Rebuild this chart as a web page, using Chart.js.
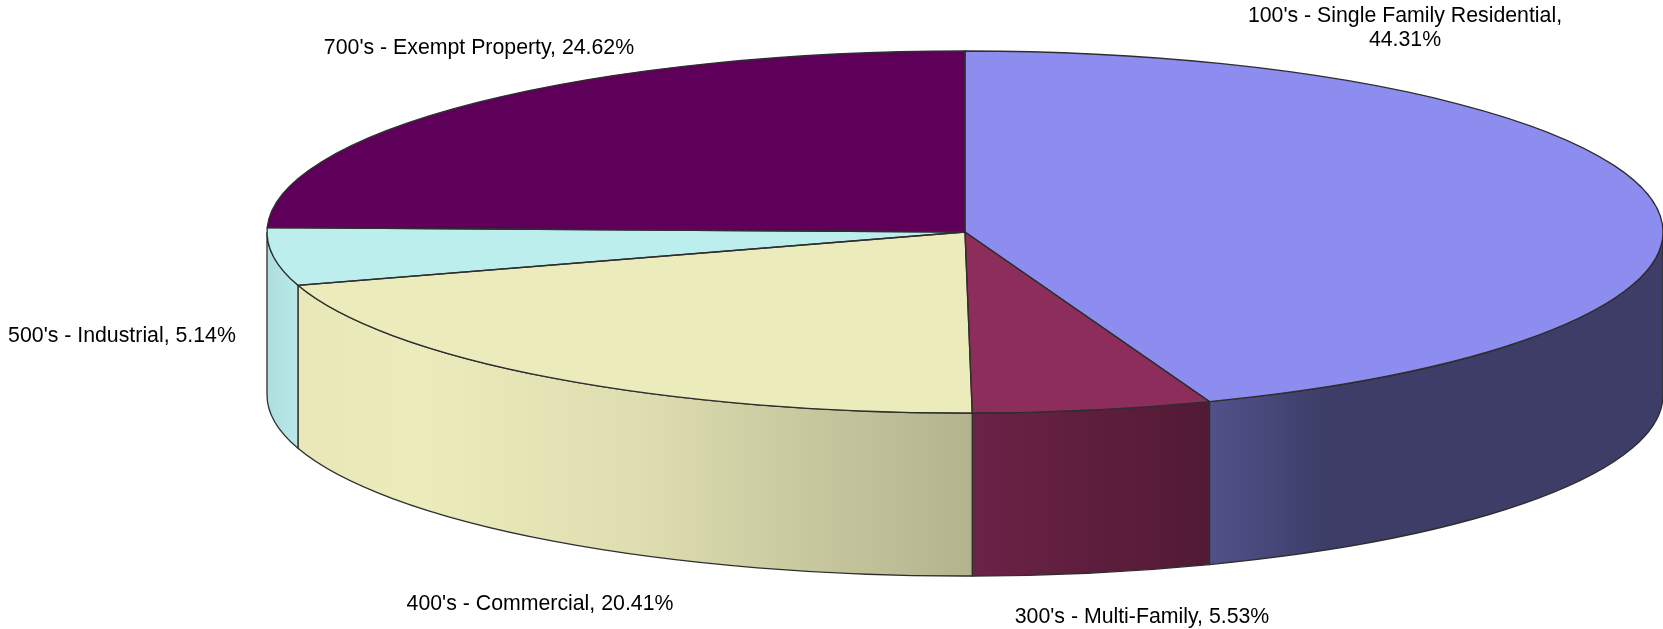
<!DOCTYPE html>
<html>
<head>
<meta charset="utf-8">
<title>Property classes</title>
<script src="https://cdn.jsdelivr.net/npm/chart.js@4"></script>
<style>
  html, body { margin: 0; padding: 0; background: #fff; }
  canvas { display: block; }
</style>
</head>
<body>
<canvas id="myChart" width="1663" height="629"></canvas>
<script>
const categories = [
  "100's - Single Family Residential",
  "300's - Multi-Family",
  "400's - Commercial",
  "500's - Industrial",
  "700's - Exempt Property"
];
const shares = [44.31, 5.53, 20.41, 5.14, 24.62];
const sliceColors = ['#8d8df0', '#8d2d5c', '#ebebbb', '#bdeeee', '#5e0059'];

// label placement, in canvas px: centre x, first baseline
const labelSpots = [[1405, 22], [1142, 623], [540, 610], [122, 342], [479, 54]];
const labelBreaks = [true, false, false, false, false];

const squash = 181 / 698;
const depth = 163;
const edgeColor = '#2e2e2e';

function wallShade(ctx) {
  // darkening over the whole pie width, light stays around x=420
  const g = ctx.createLinearGradient(267, 0, 1663, 0);
  g.addColorStop(0, 'rgba(0,0,0,0.07)');
  g.addColorStop(0.025, 'rgba(0,0,0,0.015)');
  g.addColorStop(0.11, 'rgba(0,0,0,0)');
  g.addColorStop(0.27, 'rgba(0,0,0,0.06)');
  g.addColorStop(0.505, 'rgba(0,0,0,0.24)');
  g.addColorStop(0.68, 'rgba(0,0,0,0.43)');
  g.addColorStop(0.76, 'rgba(0,0,0,0.57)');
  g.addColorStop(1, 'rgba(0,0,0,0.57)');
  return g;
}

const pie3d = {
  id: 'pie3d',
  beforeDatasetsDraw(chart) {
    const ctx = chart.ctx;
    const arcs = chart.getDatasetMeta(0).data;
    const shade = wallShade(ctx);
    ctx.save();
    ctx.lineWidth = 1.3;
    ctx.strokeStyle = edgeColor;
    arcs.forEach((arc, i) => {
      const from = Math.max(arc.startAngle, 0);
      const to = Math.min(arc.endAngle, Math.PI);
      if (to <= from) return;
      const ry = arc.outerRadius * squash;
      ctx.beginPath();
      ctx.ellipse(arc.x, arc.y, arc.outerRadius, ry, 0, from, to);
      ctx.ellipse(arc.x, arc.y + depth, arc.outerRadius, ry, 0, to, from, true);
      ctx.closePath();
      ctx.fillStyle = sliceColors[i];
      ctx.fill();
      ctx.fillStyle = shade;
      ctx.fill();
      ctx.stroke();
    });
    ctx.restore();
  },
  beforeDatasetDraw(chart) {
    const ctx = chart.ctx;
    const cy = chart.getDatasetMeta(0).data[0].y;
    ctx.save();
    ctx.translate(0, cy);
    ctx.scale(1, squash);
    ctx.translate(0, -cy);
  },
  afterDatasetDraw(chart) {
    const ctx = chart.ctx;
    ctx.restore();
    ctx.save();
    ctx.lineWidth = 1.3;
    ctx.strokeStyle = edgeColor;
    chart.getDatasetMeta(0).data.forEach((arc) => {
      ctx.beginPath();
      ctx.moveTo(arc.x, arc.y);
      ctx.ellipse(arc.x, arc.y, arc.outerRadius, arc.outerRadius * squash, 0, arc.startAngle, arc.endAngle);
      ctx.closePath();
      ctx.stroke();
    });
    ctx.restore();
  },
  afterDraw(chart) {
    const ctx = chart.ctx;
    ctx.save();
    ctx.font = '21.3px "Liberation Sans"';
    ctx.fillStyle = '#000';
    ctx.textAlign = 'center';
    categories.forEach((name, i) => {
      const [x, y] = labelSpots[i];
      if (labelBreaks[i]) {
        ctx.fillText(name + ',', x, y);
        ctx.fillText(shares[i].toFixed(2) + '%', x, y + 24);
      } else {
        ctx.fillText(name + ', ' + shares[i].toFixed(2) + '%', x, y);
      }
    });
    ctx.restore();
  }
};

new Chart(document.getElementById('myChart'), {
  type: 'pie',
  data: {
    labels: categories,
    datasets: [{
      data: shares,
      backgroundColor: sliceColors,
      borderWidth: 0,
      radius: 698,
      clip: false
    }]
  },
  options: {
    responsive: false,
    animation: false,
    layout: { padding: { left: 267, bottom: 165 } },
    plugins: {
      legend: { display: false },
      tooltip: { enabled: false }
    }
  },
  plugins: [pie3d]
});
</script>
</body>
</html>
